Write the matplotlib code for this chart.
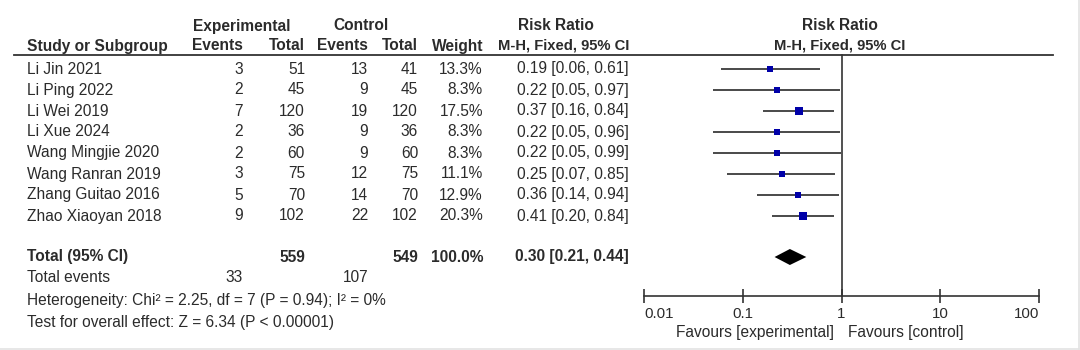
import numpy as np
import matplotlib
matplotlib.use('Agg')
import matplotlib.pyplot as plt
from matplotlib.ticker import FixedLocator, FixedFormatter, NullLocator

plt.rcParams['font.family'] = ['Liberation Sans', 'DejaVu Sans']

# data
studies = ["Li Jin 2021", "Li Ping 2022", "Li Wei 2019", "Li Xue 2024",
           "Wang Mingjie 2020", "Wang Ranran 2019", "Zhang Guitao 2016", "Zhao Xiaoyan 2018"]
exp_events = [3, 2, 7, 2, 2, 3, 5, 9]
exp_total = [51, 45, 120, 36, 60, 75, 70, 102]
ctl_events = [13, 9, 19, 9, 9, 12, 14, 22]
ctl_total = [41, 45, 120, 36, 60, 75, 70, 102]
weights = [13.3, 8.3, 17.5, 8.3, 8.3, 11.1, 12.9, 20.3]
rr = [0.19, 0.22, 0.37, 0.22, 0.22, 0.25, 0.36, 0.41]
ci_lo = [0.06, 0.05, 0.16, 0.05, 0.05, 0.07, 0.14, 0.20]
ci_hi = [0.61, 0.97, 0.84, 0.96, 0.99, 0.85, 0.94, 0.84]

total_rr, total_lo, total_hi = 0.30, 0.21, 0.44
total_exp, total_ctl = 559, 549
events_exp, events_ctl = 33, 107
hetero_txt = "Heterogeneity: Chi\u00b2 = 2.25, df = 7 (P = 0.94); I\u00b2 = 0%"
effect_txt = "Test for overall effect: Z = 6.34 (P < 0.00001)"
axis_ticks = [0.01, 0.1, 1, 10, 100]
axis_labels = ["0.01", "0.1", "1", "10", "100"]

W, H = 1080, 350
fig = plt.figure(figsize=(W / 100, H / 100), dpi=100)
fig.patch.set_facecolor('white')

# full figure axes in pixel coordinates for the table
ax = fig.add_axes([0, 0, 1, 1])
ax.set_xlim(0, W)
ax.set_ylim(H, 0)
ax.axis('off')

tc = '#2b2b2b'
fs = 11.2
row_y = [69 + 21 * i for i in range(len(studies))]

def txt(x, y, s, ha='left', bold=False, size=fs):
    ax.text(x, y, s, ha=ha, va='center', fontsize=size, color=tc,
            fontweight='bold' if bold else 'normal')

# headers
txt(242, 26, "Experimental", 'center', True)
txt(361, 26, "Control", 'center', True)
txt(556, 26, "Risk Ratio", 'center', True)
txt(840, 26, "Risk Ratio", 'center', True)
txt(27, 46, "Study or Subgroup", 'left', True)
txt(243, 46, "Events", 'right', True)
txt(305, 46, "Total", 'right', True)
txt(368, 46, "Events", 'right', True)
txt(418, 46, "Total", 'right', True)
txt(483, 46, "Weight", 'right', True)
txt(629, 46, "M-H, Fixed, 95% CI", 'right', True, fs - 0.6)
txt(840, 46, "M-H, Fixed, 95% CI", 'center', True, fs - 0.6)
ax.plot([14, 1053], [55, 55], color='#333333', lw=1.3)

for i, y in enumerate(row_y):
    txt(27, y, studies[i])
    txt(243, y, str(exp_events[i]), 'right')
    txt(305, y, str(exp_total[i]), 'right')
    txt(368, y, str(ctl_events[i]), 'right')
    txt(418, y, str(ctl_total[i]), 'right')
    txt(483, y, "%.1f%%" % weights[i], 'right')
    txt(629, y, "%.2f [%.2f, %.2f]" % (rr[i], ci_lo[i], ci_hi[i]), 'right')

ty = 257
txt(27, ty, "Total (95% CI)", 'left', True)
txt(305, ty, str(total_exp), 'right', True)
txt(418, ty, str(total_ctl), 'right', True)
txt(483, ty, "100.0%", 'right', True)
txt(629, ty, "%.2f [%.2f, %.2f]" % (total_rr, total_lo, total_hi), 'right', True)
txt(27, 278, "Total events")
txt(243, 278, str(events_exp), 'right')
txt(368, 278, str(events_ctl), 'right')
txt(27, 300, hetero_txt)
txt(27, 322, effect_txt)

txt(834, 332, "Favours [experimental]", 'right')
txt(848, 332, "Favours [control]", 'left')

# faint frame on right and bottom
ax.plot([0, W - 1.5], [H - 1.5, H - 1.5], color='#e3e3e3', lw=1.2)
ax.plot([W - 1.5, W - 1.5], [0, H - 1.5], color='#e3e3e3', lw=1.2)

# forest plot axes, log scale
x0, x1 = 644, 1039
fax = fig.add_axes([x0 / W, 0, (x1 - x0) / W, 1])
fax.set_xscale('log')
fax.set_xlim(0.01, 100)
fax.set_ylim(H, 0)
fax.patch.set_alpha(0)
for s in ['left', 'right', 'top']:
    fax.spines[s].set_visible(False)
fax.spines['bottom'].set_position(('data', 296))
fax.spines['bottom'].set_color('#333333')
fax.spines['bottom'].set_linewidth(1.2)
fax.yaxis.set_major_locator(NullLocator())
fax.xaxis.set_major_locator(FixedLocator(axis_ticks))
fax.xaxis.set_major_formatter(FixedFormatter(axis_labels))
fax.xaxis.set_minor_locator(NullLocator())
fax.tick_params(axis='x', direction='inout', length=10, width=1.2, color='#333333',
                labelsize=fs - 0.4, labelcolor=tc, pad=3)
labs = fax.get_xticklabels()
labs[0].set_horizontalalignment('left')
labs[-1].set_horizontalalignment('right')

fax.plot([1, 1], [55, 296], color='#333333', lw=1.2)

for i, y in enumerate(row_y):
    fax.plot([ci_lo[i], ci_hi[i]], [y, y], color='#3a3a3a', lw=1.3, solid_capstyle='butt')
    fax.plot(rr[i], y, marker='s', color='#0000a8', markersize=1.3 * np.sqrt(weights[i]),
             markeredgewidth=0)

dh = 8
fax.fill([total_lo, total_rr, total_hi, total_rr], [ty, ty - dh, ty, ty + dh],
         color='black', lw=0)

fig.savefig('out.png', dpi=100, facecolor='white')
